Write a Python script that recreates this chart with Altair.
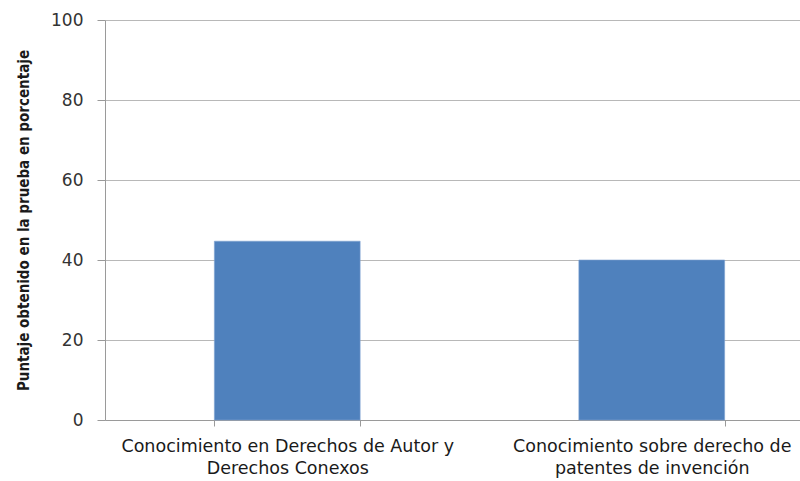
import altair as alt
import pandas as pd

categories = [
    "Conocimiento en Derechos de Autor y\nDerechos Conexos",
    "Conocimiento sobre derecho de\npatentes de invención",
]
values = [44.7, 40.0]
y_ticks = [0, 20, 40, 60, 80, 100]

df = pd.DataFrame({"cat": categories, "val": values})

chart = alt.Chart(df).mark_bar(color="#4F81BD", stroke="#7fa3d1", strokeWidth=0.6).encode(
    x=alt.X(
        "cat:N",
        sort=categories,
        scale=alt.Scale(range=[0, 729], paddingInner=0.6, paddingOuter=0.3),
        axis=alt.Axis(
            title=None,
            labelAngle=0,
            labelExpr="split(datum.label, '\\n')",
            labelFont="DejaVu Sans",
            labelFontSize=17.5,
            labelColor="#1a1a1a",
            labelLineHeight=22,
            labelLimit=500,
            labelPadding=11,
            labelBaseline="top",
            tickBand="extent",
            tickSize=6,
            tickColor="#9a9a9a",
            domainColor="#9a9a9a",
            labelOverlap=False,
        ),
    ),
    y=alt.Y(
        "val:Q",
        scale=alt.Scale(domain=[0, 100], nice=False),
        axis=alt.Axis(
            values=y_ticks,
            title="Puntaje obtenido en la prueba en porcentaje",
            titleFont="DejaVu Sans Condensed, Roboto Condensed, Roboto",
            titleFontSize=15,
            titleFontWeight="bold",
            titleColor="#1a1a1a",
            titlePadding=19,
            labelFont="DejaVu Sans",
            labelFontSize=17,
            labelColor="#333333",
            labelPadding=14,
            tickSize=8,
            tickColor="#9a9a9a",
            domainColor="#9a9a9a",
            gridColor="#b8b8b8",
            gridWidth=1,
        ),
    ),
).properties(
    width=695,
    height=400,
    autosize=alt.AutoSizeParams(type="none"),
    padding={"left": 105, "top": 20, "right": 0, "bottom": 61},
).configure_view(stroke=None).configure_axis(grid=True).configure_axisX(grid=False)

chart.save("out.html", embed_options={"renderer": "svg", "actions": False})
